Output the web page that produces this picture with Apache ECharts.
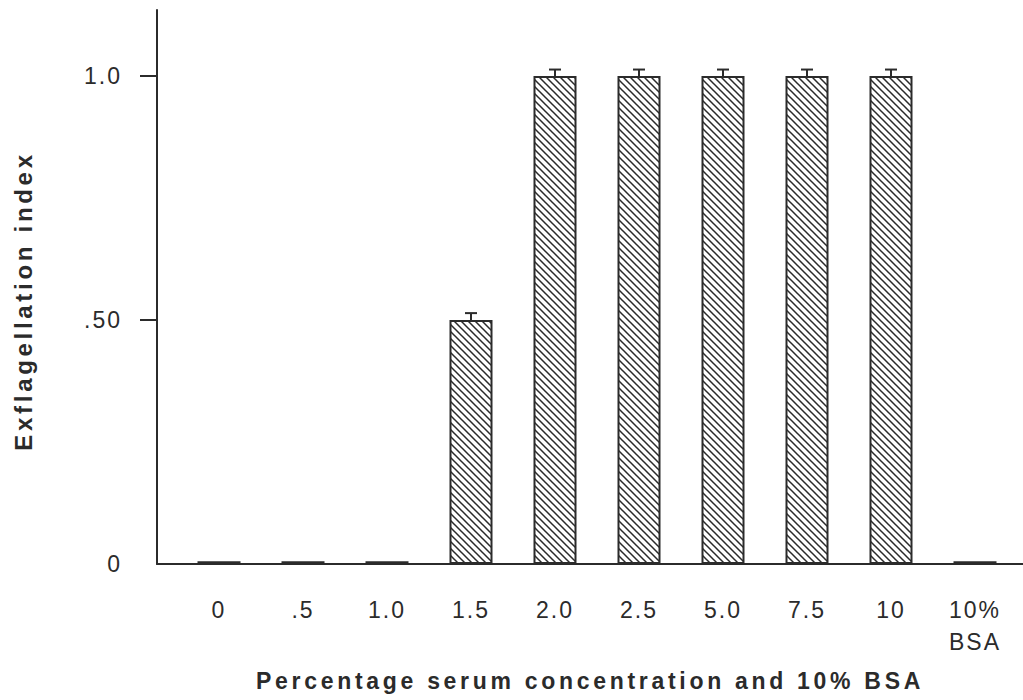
<!DOCTYPE html>
<html>
<head>
<meta charset="utf-8">
<script src="https://cdn.jsdelivr.net/npm/echarts@6/dist/echarts.min.js"></script>
<style>
  html, body { margin: 0; padding: 0; background: #fff; }
  #chart { width: 1023px; height: 700px; }
  #chart svg text { letter-spacing: 2px; }
  #chart svg text[style*="bold"] { letter-spacing: 3.7px; }
</style>
</head>
<body>
<div id="chart"></div>
<script>
// Serum concentrations tested (last one is 10% bovine serum albumin)
const categories = ['0', '.5', '1.0', '1.5', '2.0', '2.5', '5.0', '7.5', '10', '10%\nBSA'];
// Exflagellation index per concentration
const indexValues = [0, 0, 0, 0.5, 1.0, 1.0, 1.0, 1.0, 1.0, 0];
// Error (upper bar) per concentration
const errorValues = [0, 0, 0, 0.014, 0.013, 0.013, 0.013, 0.013, 0.013, 0];
// Y axis label positions, printed labels, and tick marks
const yLabelValues = [0, 0.5, 1.0];
const yTickLabels = ['0', '.50', '1.0'];
const yTickValues = [0.5, 1.0];

const FONT = '"Liberation Sans", Arial, Helvetica, sans-serif';
const INK = '#2b2b2b';
const BAR_WIDTH = 43;

// Diagonal hatch tile for the bars
function hatchTile() {
  const s = 7;
  const c = document.createElement('canvas');
  c.width = s; c.height = s;
  const ctx = c.getContext('2d');
  ctx.fillStyle = '#fff';
  ctx.fillRect(0, 0, s, s);
  ctx.strokeStyle = INK;
  ctx.lineWidth = 1.5;
  ctx.beginPath();
  ctx.moveTo(-1, -1); ctx.lineTo(s + 1, s + 1);
  ctx.moveTo(-1, s - 1); ctx.lineTo(1, s + 1);
  ctx.moveTo(s - 1, -1); ctx.lineTo(s + 1, 1);
  ctx.stroke();
  return c.toDataURL();
}

const Y_MAX = 1.135;
const chart = echarts.init(document.getElementById('chart'), null, { renderer: 'svg' });

chart.setOption({
  animation: false,
  backgroundColor: '#fff',
  grid: [
    { left: 157, right: 0, top: 10, bottom: 136 },
    { left: 177, width: 840, top: 10, bottom: 136 }
  ],
  xAxis: [
    {
      gridIndex: 0, type: 'value', min: 0, max: 1,
      axisLine: { show: true, lineStyle: { color: INK, width: 2 } },
      axisTick: { show: false }, axisLabel: { show: false }, splitLine: { show: false }
    },
    {
      gridIndex: 1, type: 'category', data: categories,
      axisLine: { show: false }, axisTick: { show: false },
      axisLabel: {
        color: INK, fontFamily: FONT, fontSize: 23, margin: 30, lineHeight: 32,
        interval: 0
      },
      name: 'Percentage serum concentration and 10% BSA',
      nameLocation: 'middle', nameGap: 105,
      nameTextStyle: { color: INK, fontFamily: FONT, fontSize: 23, fontWeight: 'bold', padding: [0, 14, 0, 0] }
    }
  ],
  yAxis: [
    {
      gridIndex: 0, type: 'value', min: 0, max: Y_MAX,
      axisLine: { show: true, lineStyle: { color: INK, width: 2 } },
      axisTick: { show: true, inside: false, length: 17, customValues: yTickValues, lineStyle: { color: INK, width: 2 } },
      axisLabel: {
        customValues: yLabelValues, margin: 35, color: INK, fontFamily: FONT, fontSize: 23,
        formatter: v => yTickLabels[yLabelValues.indexOf(v)] ?? ''
      },
      splitLine: { show: false },
      name: 'Exflagellation index',
      nameLocation: 'middle', nameGap: 122, nameRotate: 90,
      nameTextStyle: { color: INK, fontFamily: FONT, fontSize: 24, fontWeight: 'bold', padding: [0, 28, 0, 0] }
    },
    {
      gridIndex: 1, type: 'value', min: 0, max: Y_MAX, show: false
    }
  ],
  series: [
    {
      type: 'bar', xAxisIndex: 1, yAxisIndex: 1,
      data: indexValues,
      barWidth: BAR_WIDTH,
      itemStyle: {
        color: { image: hatchTile(), repeat: 'repeat' },
        borderColor: INK, borderWidth: 2
      }
    },
    {
      // error bars, plus a flat stroke for bars whose value is zero
      type: 'custom', xAxisIndex: 1, yAxisIndex: 1,
      data: indexValues.map((v, i) => [i, v, errorValues[i]]),
      renderItem: (params, api) => {
        const i = api.value(0), v = api.value(1), e = api.value(2);
        const base = api.coord([i, v]);
        if (v === 0) {
          const hw = BAR_WIDTH / 2;
          return {
            type: 'line',
            shape: { x1: base[0] - hw, y1: base[1] - 1.5, x2: base[0] + hw, y2: base[1] - 1.5 },
            style: { stroke: INK, lineWidth: 2.5 }
          };
        }
        if (!e) return null;
        const top = api.coord([i, v + e]);
        const half = 6;
        return {
          type: 'group',
          children: [
            { type: 'line', shape: { x1: base[0], y1: base[1], x2: top[0], y2: top[1] }, style: { stroke: INK, lineWidth: 2 } },
            { type: 'line', shape: { x1: top[0] - half, y1: top[1], x2: top[0] + half, y2: top[1] }, style: { stroke: INK, lineWidth: 2 } }
          ]
        };
      },
      z: 5
    }
  ]
});
</script>
</body>
</html>
